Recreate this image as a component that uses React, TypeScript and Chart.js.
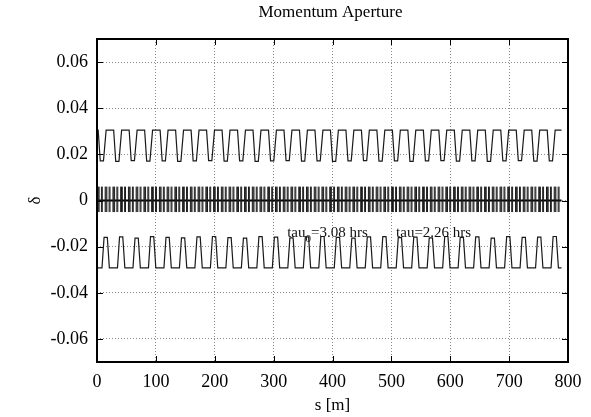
import React, { useEffect, useRef } from "react";
import { Chart, registerables } from "chart.js";

Chart.register(...registerables);

// ---------- text ----------
const TITLE = "Momentum Aperture";
const X_TITLE = "s [m]";
const Y_TITLE = "δ";

// ---------- axes ----------
const X_MIN = 0;
const X_MAX = 800;
const Y_MIN = -0.07;
const Y_MAX = 0.07;
const X_TICKS = [0, 100, 200, 300, 400, 500, 600, 700, 800];
const Y_TICKS = [-0.06, -0.04, -0.02, 0, 0.02, 0.04, 0.06];

// ---------- lattice cells (start position of each cell, m) ----------
const CELL_STARTS = [
  0, 26.3, 52.6, 78.9, 105.2, 131.5, 157.8, 184.1, 210.4, 236.7,
  263.0, 289.3, 315.6, 341.9, 368.2, 394.5, 420.8, 447.1, 473.4, 499.7,
  526.0, 552.3, 578.6, 604.9, 631.2, 657.5, 683.8, 710.1, 736.4, 762.7,
];
const RING_END = 789.0;

// ---------- positive momentum aperture ----------
const UPPER_PLATEAU = 0.0305;
const UPPER_DIP = [
  0.0172, 0.0170, 0.0173, 0.0171, 0.0172, 0.0170, 0.0172, 0.0173, 0.0171, 0.0172,
  0.0170, 0.0172, 0.0173, 0.0171, 0.0172, 0.0170, 0.0172, 0.0173, 0.0171, 0.0172,
  0.0170, 0.0172, 0.0173, 0.0171, 0.0172, 0.0170, 0.0172, 0.0173, 0.0171, 0.0172,
];
// shape of one cell: offset within the cell (m) and level (1 = plateau, 0 = dip)
const UPPER_SHAPE_S = [0, 2.0, 5.5, 11.0, 15.5];
const UPPER_SHAPE_LEVEL = [1, 1, 0, 0, 1];

// ---------- negative momentum aperture ----------
const LOWER_BASE = -0.0292;
const LOWER_PEAK = [
  -0.0160, -0.0158, -0.0163, -0.0157, -0.0160, -0.0162, -0.0158, -0.0156, -0.0161, -0.0163,
  -0.0157, -0.0159, -0.0162, -0.0158, -0.0156, -0.0160, -0.0163, -0.0158, -0.0157, -0.0161,
  -0.0159, -0.0162, -0.0156, -0.0160, -0.0158, -0.0163, -0.0157, -0.0160, -0.0159, -0.0156,
];
// shape of one cell: offset within the cell (m) and level (0 = base, 1 = peak)
const LOWER_SHAPE_S = [0, 8.5, 12.0, 17.5, 21.0];
const LOWER_SHAPE_LEVEL = [0, 0, 1, 1, 0];

// ---------- magnet markers around zero ----------
const BAR_OFFSETS = [0.8, 2.2, 3.6, 7.5, 9.0, 13.9, 15.3, 16.7, 20.6, 22.1];
const BAR_LOW = -0.005;
const BAR_HIGH = 0.006;
const ZERO_LINE_X = [0, RING_END];
const ZERO_LINE_Y = [0, 0];

// ---------- annotations ----------
const LABEL_1 = { s: 323, d: -0.0157, main: "tau", sub: "0", rest: "=3.08 hrs" };
const LABEL_2 = { s: 508, d: -0.0157, main: "tau=2.26 hrs", sub: "", rest: "" };

const SERIF = '"Liberation Serif", "DejaVu Serif", serif';

function buildUpper() {
  const pts: { x: number; y: number }[] = [];
  CELL_STARTS.forEach((s0, i) => {
    UPPER_SHAPE_S.forEach((ds, k) => {
      pts.push({ x: s0 + ds, y: UPPER_SHAPE_LEVEL[k] ? UPPER_PLATEAU : UPPER_DIP[i] });
    });
  });
  pts.push({ x: RING_END, y: UPPER_PLATEAU });
  return pts;
}

function buildLower() {
  const pts: { x: number; y: number }[] = [];
  CELL_STARTS.forEach((s0, i) => {
    LOWER_SHAPE_S.forEach((ds, k) => {
      pts.push({ x: s0 + ds, y: LOWER_SHAPE_LEVEL[k] ? LOWER_PEAK[i] : LOWER_BASE });
    });
  });
  pts.push({ x: RING_END, y: LOWER_BASE });
  return pts;
}

function buildBars() {
  const pts: { x: number; y: number | null }[] = [];
  CELL_STARTS.forEach((s0) => {
    BAR_OFFSETS.forEach((ds) => {
      const s = s0 + ds;
      pts.push({ x: s, y: BAR_LOW });
      pts.push({ x: s, y: BAR_HIGH });
      pts.push({ x: s, y: null });
    });
  });
  return pts;
}

const framePlugin = {
  id: "frame",
  afterDatasetsDraw(chart: any) {
    const { ctx, chartArea: a, scales } = chart;
    ctx.save();
    ctx.strokeStyle = "#000";
    ctx.lineWidth = 1;
    const tl = 6;
    ctx.beginPath();
    X_TICKS.forEach((v) => {
      const px = Math.round(scales.x.getPixelForValue(v)) + 0.5;
      ctx.moveTo(px, a.bottom);
      ctx.lineTo(px, a.bottom - tl);
      ctx.moveTo(px, a.top);
      ctx.lineTo(px, a.top + tl);
    });
    Y_TICKS.forEach((v) => {
      const py = Math.round(scales.y.getPixelForValue(v)) + 0.5;
      ctx.moveTo(a.left, py);
      ctx.lineTo(a.left + tl, py);
      ctx.moveTo(a.right, py);
      ctx.lineTo(a.right - tl, py);
    });
    ctx.stroke();
    ctx.lineWidth = 2;
    ctx.strokeRect(a.left, a.top, a.right - a.left, a.bottom - a.top);

    // title centred over the plot
    ctx.fillStyle = "#000";
    ctx.textAlign = "center";
    ctx.textBaseline = "middle";
    ctx.font = `17px ${SERIF}`;
    ctx.fillText(TITLE, (a.left + a.right) / 2 - 2, 13);

    // annotations
    ctx.fillStyle = "#111";
    ctx.textBaseline = "alphabetic";
    ctx.textAlign = "left";
    [LABEL_1, LABEL_2].forEach((lab) => {
      let x = scales.x.getPixelForValue(lab.s);
      const y = scales.y.getPixelForValue(lab.d);
      ctx.font = `15px ${SERIF}`;
      ctx.fillText(lab.main, x, y);
      x += ctx.measureText(lab.main).width;
      if (lab.sub) {
        ctx.font = `11px ${SERIF}`;
        ctx.fillText(lab.sub, x, y + 5);
        x += ctx.measureText(lab.sub).width;
      }
      if (lab.rest) {
        ctx.font = `15px ${SERIF}`;
        ctx.fillText(lab.rest, x, y);
      }
    });
    ctx.restore();
  },
};

export default function App() {
  const ref = useRef<HTMLCanvasElement | null>(null);

  useEffect(() => {
    if (!ref.current) return;
    const lineStyle = {
      showLine: true,
      pointRadius: 0,
      borderColor: "#1a1a1a",
      borderWidth: 1.2,
      spanGaps: false,
    };
    const chart = new Chart(ref.current, {
      type: "scatter",
      data: {
        datasets: [
          { ...lineStyle, data: buildUpper() },
          { ...lineStyle, data: buildLower() },
          { ...lineStyle, data: buildBars() as any, borderWidth: 1 },
          {
            ...lineStyle,
            borderWidth: 2,
            borderColor: "#000",
            data: ZERO_LINE_X.map((x, i) => ({ x, y: ZERO_LINE_Y[i] })),
          },
        ],
      },
      plugins: [framePlugin],
      options: {
        animation: false,
        responsive: false,
        devicePixelRatio: 1,
        layout: { padding: { top: 39, right: 23, bottom: 0, left: 0 } },
        plugins: {
          legend: { display: false },
          tooltip: { enabled: false },
          title: { display: false },
        },
        scales: {
          x: {
            type: "linear",
            min: X_MIN,
            max: X_MAX,
            afterFit: (s: any) => {
              s.height = 55;
            },
            afterBuildTicks: (s: any) => {
              s.ticks = X_TICKS.map((v) => ({ value: v }));
            },
            ticks: {
              color: "#000",
              font: { family: SERIF, size: 18 },
              padding: 9,
              maxRotation: 0,
              autoSkip: false,
              callback: (v: any) => String(v),
            },
            grid: { color: "#8a8a8a", lineWidth: 1, drawTicks: false },
            border: { display: false, dash: [1, 2] },
            title: {
              display: true,
              text: X_TITLE,
              color: "#000",
              font: { family: SERIF, size: 17 },
              padding: 1,
            },
          },
          y: {
            type: "linear",
            min: Y_MIN,
            max: Y_MAX,
            afterFit: (s: any) => {
              s.width = 97;
            },
            afterBuildTicks: (s: any) => {
              s.ticks = Y_TICKS.map((v) => ({ value: v }));
            },
            ticks: {
              color: "#000",
              font: { family: SERIF, size: 18 },
              padding: 9,
              autoSkip: false,
              callback: (v: any) => {
                const n = Number(v);
                return Math.abs(n) < 1e-9 ? "0" : n.toFixed(2);
              },
            },
            grid: { color: "#8a8a8a", lineWidth: 1, drawTicks: false },
            border: { display: false, dash: [1, 2] },
            title: {
              display: true,
              text: Y_TITLE,
              color: "#000",
              font: { family: SERIF, size: 17 },
              padding: 25,
            },
          },
        },
      } as any,
    });
    return () => chart.destroy();
  }, []);

  return (
    <div style={{ position: "absolute", left: 0, top: 0, width: 591, height: 417, background: "#fff" }}>
      <canvas ref={ref} width={591} height={417} />
    </div>
  );
}
